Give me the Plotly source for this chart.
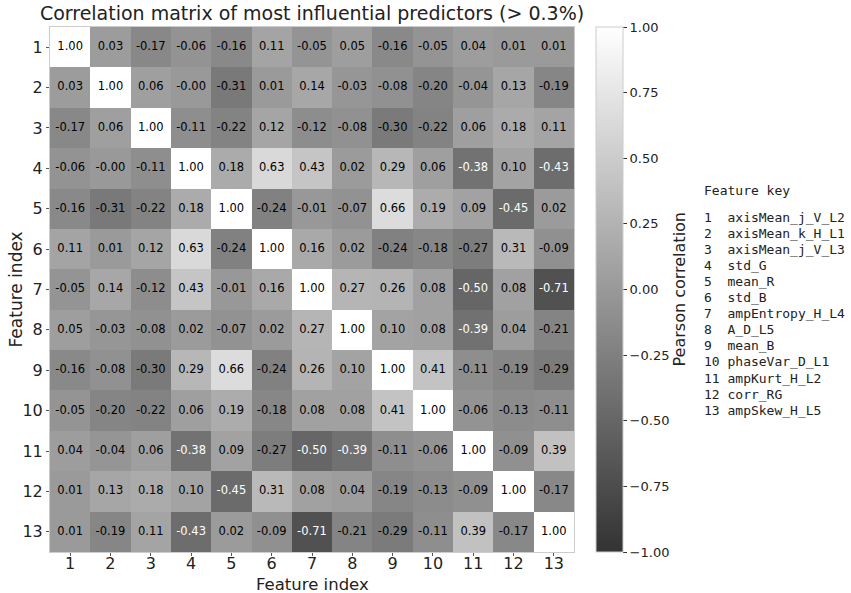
import plotly.graph_objects as go

features = ["axisMean_j_V_L2", "axisMean_k_H_L1", "axisMean_j_V_L3", "std_G", "mean_R",
            "std_B", "ampEntropy_H_L4", "A_D_L5", "mean_B", "phaseVar_D_L1",
            "ampKurt_H_L2", "corr_RG", "ampSkew_H_L5"]
idx = list(range(1, 14))

corr = [
    [1.00, 0.03, -0.17, -0.06, -0.16, 0.11, -0.05, 0.05, -0.16, -0.05, 0.04, 0.01, 0.01],
    [0.03, 1.00, 0.06, -0.00, -0.31, 0.01, 0.14, -0.03, -0.08, -0.20, -0.04, 0.13, -0.19],
    [-0.17, 0.06, 1.00, -0.11, -0.22, 0.12, -0.12, -0.08, -0.30, -0.22, 0.06, 0.18, 0.11],
    [-0.06, -0.00, -0.11, 1.00, 0.18, 0.63, 0.43, 0.02, 0.29, 0.06, -0.38, 0.10, -0.43],
    [-0.16, -0.31, -0.22, 0.18, 1.00, -0.24, -0.01, -0.07, 0.66, 0.19, 0.09, -0.45, 0.02],
    [0.11, 0.01, 0.12, 0.63, -0.24, 1.00, 0.16, 0.02, -0.24, -0.18, -0.27, 0.31, -0.09],
    [-0.05, 0.14, -0.12, 0.43, -0.01, 0.16, 1.00, 0.27, 0.26, 0.08, -0.50, 0.08, -0.71],
    [0.05, -0.03, -0.08, 0.02, -0.07, 0.02, 0.27, 1.00, 0.10, 0.08, -0.39, 0.04, -0.21],
    [-0.16, -0.08, -0.30, 0.29, 0.66, -0.24, 0.26, 0.10, 1.00, 0.41, -0.11, -0.19, -0.29],
    [-0.05, -0.20, -0.22, 0.06, 0.19, -0.18, 0.08, 0.08, 0.41, 1.00, -0.06, -0.13, -0.11],
    [0.04, -0.04, 0.06, -0.38, 0.09, -0.27, -0.50, -0.39, -0.11, -0.06, 1.00, -0.09, 0.39],
    [0.01, 0.13, 0.18, 0.10, -0.45, 0.31, 0.08, 0.04, -0.19, -0.13, -0.09, 1.00, -0.17],
    [0.01, -0.19, 0.11, -0.43, 0.02, -0.09, -0.71, -0.21, -0.29, -0.11, 0.39, -0.17, 1.00],
]

FONT = "DejaVu Sans"
MONO = "DejaVu Sans Mono"
L, R, T, B = 50, 277, 27, 41
W, H = 851, 593
PW, PH = W - L - R, H - T - B


def px_x(px):
    return (px - L) / PW


def px_y(py):
    return 1 - (py - T) / PH


fig = go.Figure()
fig.add_trace(go.Heatmap(
    z=corr, x=idx, y=idx, zmin=-1, zmax=1,
    colorscale=[[0, "#333333"], [1, "#ffffff"]],
    colorbar=dict(
        x=px_x(596), xanchor="left", xpad=0, y=0.5, yanchor="middle", ypad=0,
        len=1.0, lenmode="fraction", thickness=27,
        outlinecolor="#cccccc", outlinewidth=1,
        tickvals=[-1, -0.75, -0.5, -0.25, 0, 0.25, 0.5, 0.75, 1],
        ticktext=["\u22121.00", "\u22120.75", "\u22120.50", "\u22120.25", "0.00", "0.25", "0.50", "0.75", "1.00"],
        ticks="outside", ticklen=4, tickcolor="#333",
        tickfont=dict(size=13, family=FONT, color="#222"),
    ),
    hoverongaps=False,
))

xs, ys, txt, cols = [], [], [], []
for i, row in enumerate(corr):
    for j, v in enumerate(row):
        xs.append(idx[j]); ys.append(idx[i])
        txt.append(f"{v:.2f}")
        cols.append("white" if v < -0.35 else "black")
fig.add_trace(go.Scatter(x=xs, y=ys, mode="text", text=txt,
                         textfont=dict(size=11.5, family=FONT, color=cols),
                         hoverinfo="skip", showlegend=False))

axis_common = dict(tickvals=idx, ticktext=[str(i) for i in idx],
                   ticks="outside", ticklen=3, tickcolor="#555", showgrid=False, zeroline=False,
                   showline=True, linecolor="#cccccc", mirror=True, automargin=False,
                   tickfont=dict(size=16, family=FONT, color="#222"))
fig.update_xaxes(range=[0.5, 13.5], ticklabelstandoff=-6, **axis_common)
fig.update_yaxes(range=[13.5, 0.5], **axis_common)

ann = [dict(text="Feature index", xref="paper", yref="paper", x=0.5, y=px_y(584),
            xanchor="center", yanchor="middle", showarrow=False,
            font=dict(size=16.5, family=FONT, color="#222")),
       dict(text="Feature index", xref="paper", yref="paper", x=px_x(15), y=0.5,
            xanchor="center", yanchor="middle", textangle=-90, showarrow=False,
            font=dict(size=17, family=FONT, color="#222")),
       dict(text="Pearson correlation", xref="paper", yref="paper", x=px_x(679), y=0.5,
            xanchor="center", yanchor="middle", textangle=-90, showarrow=False,
            font=dict(size=16, family=FONT, color="#222")),
       dict(text="Feature&nbsp;key", xref="paper", yref="paper", x=px_x(702),
            y=px_y(190), xanchor="left", yanchor="middle", showarrow=False,
            font=dict(size=13, family=MONO, color="#222"))]
for k, name in enumerate(features):
    label = f"{idx[k]:<3d}{name}"
    ann.append(dict(text=label.replace(" ", "&nbsp;"), xref="paper", yref="paper", x=px_x(702),
                    y=px_y(217 + 16.1 * k), xanchor="left", yanchor="middle",
                    showarrow=False, font=dict(size=13, family=MONO, color="#222")))

fig.update_layout(
    width=W, height=H,
    margin=dict(l=L, r=R, t=T, b=B),
    paper_bgcolor="white", plot_bgcolor="white",
    font=dict(family=FONT, color="#222"),
    title=dict(text="Correlation matrix of most influential predictors (> 0.3%)",
               x=(L + L + PW) / 2 / W, xanchor="center", y=1 - 13 / H, yanchor="middle",
               font=dict(size=19, family=FONT, color="#222")),
    annotations=ann,
    showlegend=False,
)
fig.write_html("out.html")
